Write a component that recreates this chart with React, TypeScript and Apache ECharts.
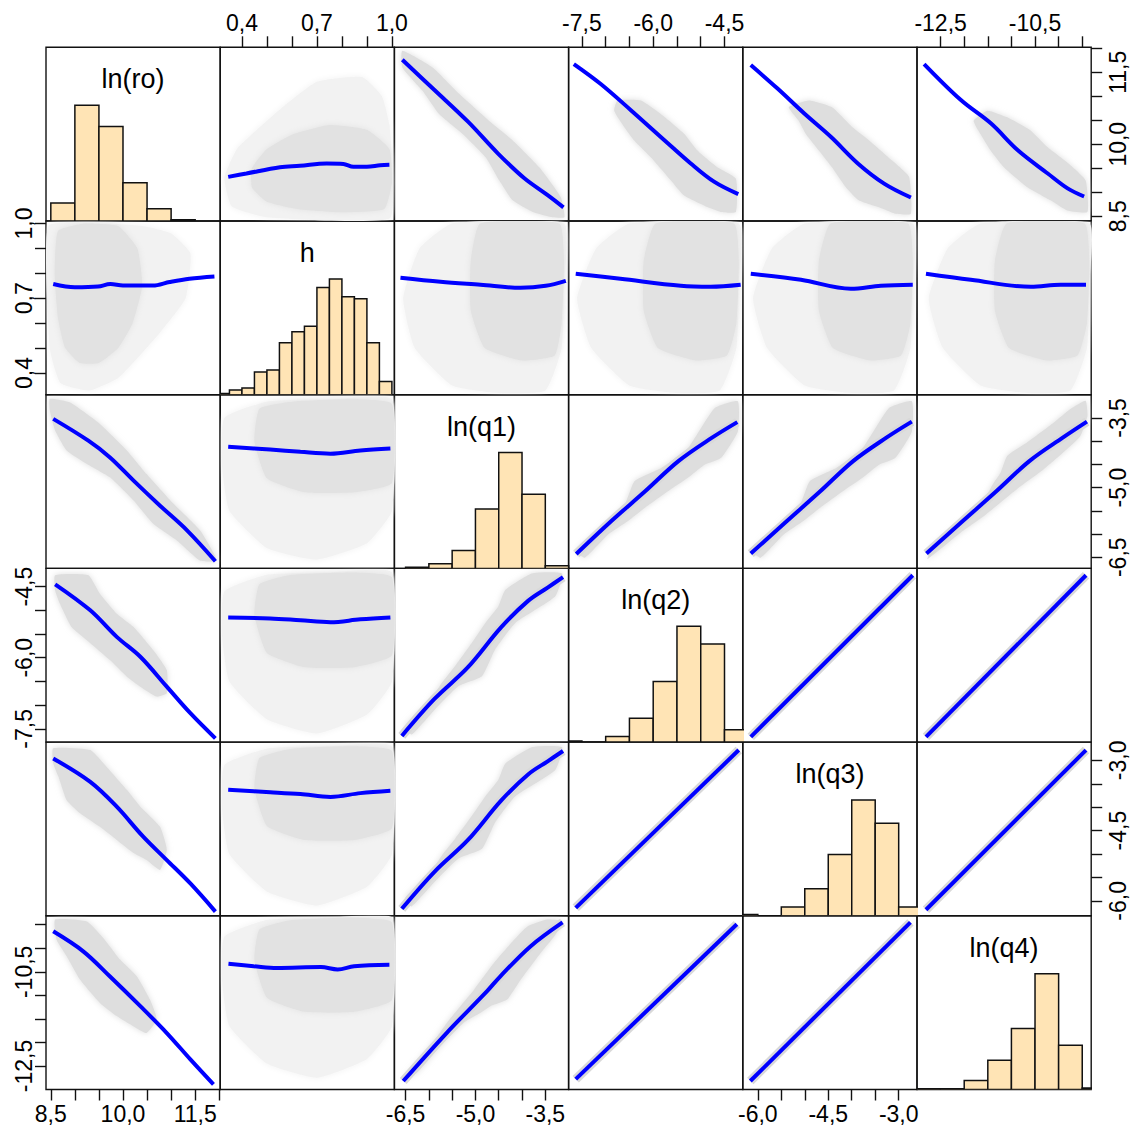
import React, { useEffect, useRef } from "react";
import * as echarts from "echarts";

// ---------- variables & axes ----------
const VAR_LABELS = ["ln(ro)", "h", "ln(q1)", "ln(q2)", "ln(q3)", "ln(q4)"];
const VAR_MIN = [8.4, 0.313, -6.74, -7.78, -6.32, -13.0];
const VAR_MAX = [12.02, 1.01, -3.0, -4.115, -2.61, -9.31];

const TICKS_RO = [8.5, 9.0, 9.5, 10.0, 10.5, 11.0, 11.5, 12.0];
const TICKS_H = [0.4, 0.5, 0.6, 0.7, 0.8, 0.9, 1.0];
const TICKS_Q1 = [-6.5, -6.0, -5.5, -5.0, -4.5, -4.0, -3.5];
const TICKS_Q2 = [-7.5, -7.0, -6.5, -6.0, -5.5, -5.0, -4.5];
const TICKS_Q3 = [-6.0, -5.5, -5.0, -4.5, -4.0, -3.5, -3.0];
const TICKS_Q4 = [-12.5, -12.0, -11.5, -11.0, -10.5, -10.0, -9.5];

const LABELS_RO = [8.5, 10.0, 11.5];
const LABELS_H = [0.4, 0.7, 1.0];
const LABELS_Q1 = [-6.5, -5.0, -3.5];
const LABELS_Q2 = [-7.5, -6.0, -4.5];
const LABELS_Q3 = [-6.0, -4.5, -3.0];
const LABELS_Q4 = [-12.5, -10.5];

// ---------- histograms (relative heights, max = 1) ----------
const HIST_BREAKS_RO = [8.5, 9.0, 9.5, 10.0, 10.5, 11.0, 11.5];
const HIST_HEIGHTS_RO = [0.155, 1.0, 0.816, 0.33, 0.106, 0.01];
const HIST_BREAKS_H = [0.3, 0.35, 0.4, 0.45, 0.5, 0.55, 0.6, 0.65, 0.7, 0.75, 0.8, 0.85, 0.9, 0.95, 1.0];
const HIST_HEIGHTS_H = [0.011, 0.04, 0.057, 0.195, 0.213, 0.448, 0.543, 0.592, 0.925, 1.0, 0.845, 0.828, 0.448, 0.115];
const HIST_BREAKS_Q1 = [-6.5, -6.0, -5.5, -5.0, -4.5, -4.0, -3.5, -3.0];
const HIST_HEIGHTS_Q1 = [0.009, 0.04, 0.155, 0.514, 1.0, 0.64, 0.023];
const HIST_BREAKS_Q2 = [-8.0, -7.5, -7.0, -6.5, -6.0, -5.5, -5.0, -4.5, -4.0];
const HIST_HEIGHTS_Q2 = [0.01, 0, 0.049, 0.207, 0.523, 1.0, 0.848, 0.106];
const HIST_BREAKS_Q3 = [-6.5, -6.0, -5.5, -5.0, -4.5, -4.0, -3.5, -3.0, -2.5];
const HIST_HEIGHTS_Q3 = [0.012, 0, 0.075, 0.233, 0.529, 1.0, 0.8, 0.075];
const HIST_BREAKS_Q4 = [-13.0, -12.5, -12.0, -11.5, -11.0, -10.5, -10.0, -9.5, -9.0];
const HIST_HEIGHTS_Q4 = [0.006, 0.006, 0.078, 0.253, 0.526, 1.0, 0.382, 0.012];

// ---------- smooth (lowess) lines, panel row_col: [x, y] ----------
const SMOOTH_1_2 = [[0.345, 9.32], [0.418, 9.39], [0.552, 9.52], [0.632, 9.55], [0.739, 9.6], [0.806, 9.59], [0.846, 9.53], [0.9, 9.53], [0.953, 9.56], [0.99, 9.57]];
const SMOOTH_1_3 = [[-6.57, 11.76], [-5.88, 11.13], [-5.16, 10.47], [-4.52, 9.81], [-3.95, 9.29], [-3.45, 8.94], [-3.11, 8.685]];
const SMOOTH_1_4 = [[-7.67, 11.67], [-7.11, 11.26], [-6.47, 10.71], [-5.77, 10.09], [-5.21, 9.6], [-4.72, 9.22], [-4.21, 8.96]];
const SMOOTH_1_5 = [[-6.15, 11.65], [-5.58, 11.16], [-5.01, 10.64], [-4.44, 10.15], [-3.87, 9.6], [-3.31, 9.18], [-2.74, 8.89]];
const SMOOTH_1_6 = [[-12.85, 11.67], [-12.07, 10.92], [-11.43, 10.43], [-10.87, 9.88], [-10.23, 9.39], [-9.81, 9.08], [-9.46, 8.91]];
const SMOOTH_2_1 = [[8.55, 0.757], [9.0, 0.744], [9.48, 0.747], [9.74, 0.757], [10.0, 0.751], [10.62, 0.751], [10.97, 0.765], [11.38, 0.778], [11.9, 0.787]];
const SMOOTH_2_3 = [[-6.61, 0.782], [-5.75, 0.766], [-4.89, 0.754], [-4.03, 0.742], [-3.49, 0.75], [-3.06, 0.77]];
const SMOOTH_2_4 = [[-7.63, 0.798], [-6.69, 0.778], [-5.42, 0.75], [-4.79, 0.746], [-4.16, 0.754]];
const SMOOTH_2_5 = [[-6.15, 0.798], [-5.08, 0.774], [-4.02, 0.738], [-3.38, 0.75], [-2.7, 0.754]];
const SMOOTH_2_6 = [[-12.81, 0.798], [-11.86, 0.774], [-10.59, 0.746], [-9.96, 0.754], [-9.42, 0.754]];
const SMOOTH_3_1 = [[8.55, -3.52], [9.28, -3.99], [9.73, -4.35], [10.22, -4.85], [10.77, -5.39], [11.33, -5.92], [11.92, -6.585]];
const SMOOTH_3_2 = [[0.345, -4.12], [0.513, -4.18], [0.634, -4.23], [0.754, -4.27], [0.874, -4.2], [0.994, -4.16]];
const SMOOTH_3_4 = [[-7.62, -6.43], [-6.88, -5.72], [-6.17, -5.08], [-5.47, -4.43], [-4.77, -3.93], [-4.23, -3.59]];
const SMOOTH_3_5 = [[-6.15, -6.42], [-5.38, -5.72], [-4.67, -5.08], [-3.97, -4.43], [-3.27, -3.93], [-2.72, -3.58]];
const SMOOTH_3_6 = [[-12.8, -6.42], [-12.03, -5.72], [-11.32, -5.08], [-10.62, -4.43], [-9.92, -3.93], [-9.4, -3.58]];
const SMOOTH_4_1 = [[8.59, -4.45], [9.32, -5.0], [9.87, -5.56], [10.36, -5.98], [10.91, -6.61], [11.4, -7.17], [11.92, -7.7]];
const SMOOTH_4_2 = [[0.345, -5.15], [0.513, -5.17], [0.634, -5.21], [0.754, -5.25], [0.874, -5.19], [0.994, -5.15]];
const SMOOTH_4_3 = [[-6.58, -7.65], [-5.88, -6.87], [-5.16, -6.2], [-4.45, -5.36], [-3.87, -4.8], [-3.45, -4.52], [-3.12, -4.3]];
const SMOOTH_4_5 = [[-6.15, -7.67], [-2.7, -4.26]];
const SMOOTH_4_6 = [[-12.81, -7.67], [-9.42, -4.26]];
const SMOOTH_5_1 = [[8.55, -2.96], [9.32, -3.46], [9.87, -3.99], [10.42, -4.63], [10.91, -5.13], [11.4, -5.63], [11.92, -6.23]];
const SMOOTH_5_2 = [[0.345, -3.63], [0.513, -3.68], [0.634, -3.72], [0.754, -3.78], [0.874, -3.7], [0.994, -3.65]];
const SMOOTH_5_3 = [[-6.58, -6.17], [-5.88, -5.38], [-5.16, -4.7], [-4.45, -3.86], [-3.87, -3.3], [-3.45, -3.02], [-3.12, -2.8]];
const SMOOTH_5_4 = [[-7.63, -6.15], [-4.2, -2.78]];
const SMOOTH_5_6 = [[-12.81, -6.19], [-9.42, -2.78]];
const SMOOTH_6_1 = [[8.55, -9.64], [9.18, -10.07], [9.73, -10.6], [10.36, -11.23], [10.91, -11.8], [11.4, -12.36], [11.88, -12.89]];
const SMOOTH_6_2 = [[0.346, -10.33], [0.447, -10.38], [0.54, -10.42], [0.716, -10.4], [0.783, -10.45], [0.849, -10.38], [0.99, -10.35]];
const SMOOTH_6_3 = [[-6.55, -12.82], [-5.62, -11.8], [-4.75, -10.91], [-4.47, -10.6], [-3.82, -9.96], [-3.13, -9.45]];
const SMOOTH_6_4 = [[-7.63, -12.78], [-4.24, -9.49]];
const SMOOTH_6_5 = [[-6.16, -12.82], [-2.75, -9.45]];

// ---------- point clouds (envelopes), pair (a,b) stored as [value a, value b] ----------
const CLOUD_RO_H_OUT = [[8.45, 0.99], [9.6, 1.0], [10.4, 0.99], [11.0, 0.96], [11.4, 0.88], [11.3, 0.7], [10.8, 0.57], [10.3, 0.46], [9.9, 0.38], [9.3, 0.33], [8.7, 0.36], [8.48, 0.5]];
const CLOUD_RO_H_IN = [[8.65, 0.97], [9.2, 1.0], [9.9, 0.99], [10.3, 0.9], [10.4, 0.75], [10.2, 0.6], [9.9, 0.5], [9.5, 0.44], [9.1, 0.44], [8.8, 0.5], [8.65, 0.62], [8.58, 0.8]];
const CLOUD_RO_Q1 = [[8.48, -3.09], [8.9, -3.17], [9.52, -3.63], [10.08, -4.2], [10.49, -4.71], [11.05, -5.35], [11.6, -5.92], [11.95, -6.57], [11.6, -6.57], [11.12, -6.14], [10.63, -5.78], [10.22, -5.28], [9.73, -4.78], [9.25, -4.49], [8.83, -4.2], [8.59, -3.77], [8.48, -3.34]];
const CLOUD_RO_Q2 = [[8.59, -4.26], [9.28, -4.26], [9.52, -4.65], [9.87, -5.07], [10.22, -5.35], [10.63, -5.84], [10.91, -6.26], [10.91, -6.75], [10.7, -6.82], [10.36, -6.61], [10.08, -6.4], [9.73, -6.05], [9.25, -5.63], [8.93, -5.35], [8.69, -4.86], [8.59, -4.58]];
const CLOUD_RO_Q3 = [[8.55, -2.74], [9.32, -2.78], [9.66, -3.14], [10.08, -3.63], [10.36, -3.99], [10.77, -4.42], [10.91, -4.91], [10.77, -5.34], [10.49, -5.13], [10.22, -4.98], [9.87, -4.7], [9.52, -4.42], [9.11, -4.13], [8.83, -3.85], [8.66, -3.35], [8.55, -3.06]];
const CLOUD_RO_Q4 = [[8.59, -9.39], [9.25, -9.43], [9.59, -9.78], [9.94, -10.24], [10.29, -10.6], [10.56, -11.09], [10.7, -11.51], [10.49, -11.8], [10.22, -11.66], [9.87, -11.44], [9.52, -11.16], [9.11, -10.67], [8.83, -10.17], [8.62, -9.82]];
const CLOUD_H_Q1_OUT = [[0.33, -3.5], [0.5, -3.15], [0.75, -3.1], [1.0, -3.1], [1.0, -5.5], [0.9, -6.2], [0.7, -6.55], [0.5, -6.3], [0.35, -5.5], [0.32, -4.5]];
const CLOUD_H_Q1_IN = [[0.47, -3.3], [0.6, -3.15], [0.85, -3.1], [1.0, -3.2], [1.0, -4.9], [0.85, -5.1], [0.65, -5.1], [0.5, -4.8], [0.45, -4.0]];
const CLOUD_H_Q2_OUT = [[0.33, -4.6], [0.5, -4.25], [0.75, -4.2], [1.0, -4.2], [1.0, -6.5], [0.9, -7.2], [0.7, -7.6], [0.5, -7.3], [0.35, -6.5], [0.32, -5.5]];
const CLOUD_H_Q2_IN = [[0.47, -4.45], [0.6, -4.25], [0.85, -4.2], [1.0, -4.3], [1.0, -5.95], [0.85, -6.2], [0.65, -6.2], [0.5, -5.9], [0.45, -5.1]];
const CLOUD_H_Q3_OUT = [[0.33, -3.1], [0.5, -2.75], [0.75, -2.7], [1.0, -2.7], [1.0, -5.0], [0.9, -5.7], [0.7, -6.1], [0.5, -5.8], [0.35, -5.0], [0.32, -4.0]];
const CLOUD_H_Q3_IN = [[0.47, -2.95], [0.6, -2.75], [0.85, -2.7], [1.0, -2.8], [1.0, -4.45], [0.85, -4.7], [0.65, -4.7], [0.5, -4.4], [0.45, -3.6]];
const CLOUD_H_Q4_OUT = [[0.33, -9.75], [0.5, -9.4], [0.75, -9.35], [1.0, -9.35], [1.0, -11.65], [0.9, -12.35], [0.7, -12.75], [0.5, -12.45], [0.35, -11.65], [0.32, -10.65]];
const CLOUD_H_Q4_IN = [[0.47, -9.6], [0.6, -9.4], [0.85, -9.35], [1.0, -9.45], [1.0, -11.1], [0.85, -11.35], [0.65, -11.35], [0.5, -11.05], [0.45, -10.25]];
const CLOUD_Q1_Q2 = [[-6.37, -7.62], [-5.87, -7.09], [-5.37, -6.6], [-4.86, -6.39], [-4.58, -5.83], [-4.15, -5.27], [-3.29, -4.71], [-3.14, -4.22], [-3.79, -4.22], [-4.36, -4.57], [-4.51, -4.92], [-4.79, -5.27], [-5.08, -5.69], [-5.44, -6.18], [-5.72, -6.53], [-6.01, -6.95], [-6.51, -7.44]];
const CLOUD_Q1_Q3 = [[-6.37, -6.12], [-5.87, -5.59], [-5.37, -5.1], [-4.86, -4.89], [-4.58, -4.33], [-4.15, -3.77], [-3.29, -3.21], [-3.14, -2.72], [-3.79, -2.72], [-4.36, -3.07], [-4.51, -3.42], [-4.79, -3.77], [-5.08, -4.19], [-5.44, -4.68], [-5.72, -5.03], [-6.01, -5.45], [-6.51, -5.94]];
const CLOUD_Q1_Q4 = [[-6.54, -12.78], [-5.97, -12.08], [-5.61, -11.58], [-5.03, -10.88], [-4.6, -10.31], [-4.17, -9.82], [-3.89, -9.54], [-3.46, -9.39], [-3.13, -9.43], [-3.31, -9.75], [-3.6, -10.1], [-4.03, -10.67], [-4.32, -11.09], [-4.68, -11.23], [-4.89, -11.37], [-5.25, -11.58], [-5.75, -12.08], [-6.25, -12.64]];

// ---------- assembly ----------
const TICKS = [TICKS_RO, TICKS_H, TICKS_Q1, TICKS_Q2, TICKS_Q3, TICKS_Q4];
const LABELS = [LABELS_RO, LABELS_H, LABELS_Q1, LABELS_Q2, LABELS_Q3, LABELS_Q4];
const HISTS = [
  [HIST_BREAKS_RO, HIST_HEIGHTS_RO],
  [HIST_BREAKS_H, HIST_HEIGHTS_H],
  [HIST_BREAKS_Q1, HIST_HEIGHTS_Q1],
  [HIST_BREAKS_Q2, HIST_HEIGHTS_Q2],
  [HIST_BREAKS_Q3, HIST_HEIGHTS_Q3],
  [HIST_BREAKS_Q4, HIST_HEIGHTS_Q4],
];
const SMOOTH: Record<string, number[][]> = {
  "1,2": SMOOTH_1_2, "1,3": SMOOTH_1_3, "1,4": SMOOTH_1_4, "1,5": SMOOTH_1_5, "1,6": SMOOTH_1_6,
  "2,1": SMOOTH_2_1, "2,3": SMOOTH_2_3, "2,4": SMOOTH_2_4, "2,5": SMOOTH_2_5, "2,6": SMOOTH_2_6,
  "3,1": SMOOTH_3_1, "3,2": SMOOTH_3_2, "3,4": SMOOTH_3_4, "3,5": SMOOTH_3_5, "3,6": SMOOTH_3_6,
  "4,1": SMOOTH_4_1, "4,2": SMOOTH_4_2, "4,3": SMOOTH_4_3, "4,5": SMOOTH_4_5, "4,6": SMOOTH_4_6,
  "5,1": SMOOTH_5_1, "5,2": SMOOTH_5_2, "5,3": SMOOTH_5_3, "5,4": SMOOTH_5_4, "5,6": SMOOTH_5_6,
  "6,1": SMOOTH_6_1, "6,2": SMOOTH_6_2, "6,3": SMOOTH_6_3, "6,4": SMOOTH_6_4, "6,5": SMOOTH_6_5,
};
const CLOUDS: Record<string, { layers: [number[][], string][]; halo?: boolean }> = {
  "0,1": { layers: [[CLOUD_RO_H_OUT, "out"], [CLOUD_RO_H_IN, "in"]] },
  "0,2": { layers: [[CLOUD_RO_Q1, "band"]] },
  "0,3": { layers: [[CLOUD_RO_Q2, "band"]] },
  "0,4": { layers: [[CLOUD_RO_Q3, "band"]] },
  "0,5": { layers: [[CLOUD_RO_Q4, "band"]] },
  "1,2": { layers: [[CLOUD_H_Q1_OUT, "out"], [CLOUD_H_Q1_IN, "in"]] },
  "1,3": { layers: [[CLOUD_H_Q2_OUT, "out"], [CLOUD_H_Q2_IN, "in"]] },
  "1,4": { layers: [[CLOUD_H_Q3_OUT, "out"], [CLOUD_H_Q3_IN, "in"]] },
  "1,5": { layers: [[CLOUD_H_Q4_OUT, "out"], [CLOUD_H_Q4_IN, "in"]] },
  "2,3": { layers: [[CLOUD_Q1_Q2, "band"]], halo: true },
  "2,4": { layers: [[CLOUD_Q1_Q3, "band"]], halo: true },
  "2,5": { layers: [[CLOUD_Q1_Q4, "band"]], halo: true },
  "3,4": { layers: [], halo: true },
  "3,5": { layers: [], halo: true },
  "4,5": { layers: [], halo: true },
};

const LEFT = 46;
const TOP = 47.3;
const CW = 174.2;
const CH = 173.7;
const FONT = "'Liberation Sans', Arial, Helvetica, sans-serif";
const FILLS: Record<string, string> = { out: "#f2f2f2", in: "#e2e2e2", band: "#dedede" };

const fmt = (v: number) => v.toFixed(1).replace(".", ",");

function buildOption() {
  const grid: any[] = [];
  const xAxis: any[] = [];
  const yAxis: any[] = [];
  const series: any[] = [];
  const graphic: any[] = [];

  for (let i = 0; i < 6; i++) {
    for (let j = 0; j < 6; j++) {
      const k = i * 6 + j;
      grid.push({
        left: LEFT + CW * j,
        top: TOP + CH * i,
        width: CW,
        height: CH,
        show: true,
        borderColor: "#111",
        borderWidth: 1.4,
        backgroundColor: "transparent",
        containLabel: false,
      });
      const showX = (i === 0 && j % 2 === 1) || (i === 5 && j % 2 === 0);
      const showY = (j === 0 && i % 2 === 1) || (j === 5 && i % 2 === 0);
      xAxis.push({
        type: "value",
        gridIndex: k,
        min: VAR_MIN[j],
        max: VAR_MAX[j],
        position: i === 0 ? "top" : "bottom",
        axisLine: { show: false },
        splitLine: { show: false },
        axisTick: {
          show: showX,
          customValues: TICKS[j],
          length: 11,
          lineStyle: { color: "#111", width: 1.4 },
        },
        axisLabel: {
          show: showX,
          customValues: LABELS[j],
          formatter: fmt,
          fontSize: 23,
          fontFamily: FONT,
          color: "#000",
          margin: 13,
        },
      });
      yAxis.push({
        type: "value",
        gridIndex: k,
        min: i === j ? 0 : VAR_MIN[i],
        max: i === j ? 1.5 : VAR_MAX[i],
        position: j === 0 ? "left" : "right",
        axisLine: { show: false },
        splitLine: { show: false },
        axisTick: {
          show: showY,
          customValues: TICKS[i],
          length: 11,
          lineStyle: { color: "#111", width: 1.4 },
        },
        axisLabel: {
          show: showY,
          customValues: LABELS[i],
          formatter: fmt,
          rotate: 90,
          fontSize: 23,
          fontFamily: FONT,
          color: "#000",
          margin: j === 0 ? 11 : 15,
        },
      });

      if (i === j) {
        const [breaks, heights] = HISTS[i];
        const data = heights.map((h, n) => [breaks[n], breaks[n + 1], h]);
        series.push({
          type: "custom",
          xAxisIndex: k,
          yAxisIndex: k,
          clip: true,
          silent: true,
          data,
          encode: { x: [0, 1], y: 2 },
          renderItem: (params: any, api: any) => {
            const lo = api.value(0);
            const hi = api.value(1);
            const h = api.value(2);
            const p0 = api.coord([lo, h]);
            const p1 = api.coord([hi, 0]);
            return {
              type: "rect",
              shape: { x: p0[0], y: p0[1], width: p1[0] - p0[0], height: p1[1] - p0[1] },
              style: { fill: "#FFE4B5", stroke: "#111", lineWidth: 1.5 },
            };
          },
        });
        graphic.push({
          type: "text",
          x: LEFT + CW * (j + 0.5),
          y: TOP + CH * i + 32,
          silent: true,
          style: {
            text: VAR_LABELS[i],
            font: `27px ${FONT}`,
            fill: "#000",
            align: "center",
            verticalAlign: "middle",
            textAlign: "center",
            textVerticalAlign: "middle",
          },
        });
        continue;
      }

      const a = Math.min(i, j);
      const b = Math.max(i, j);
      const cloud = CLOUDS[`${a},${b}`];
      const toPanel = (v: number[]) => (i < j ? [v[1], v[0]] : [v[0], v[1]]);
      cloud.layers.forEach(([verts, kind]) => {
        const pts = verts.map(toPanel);
        series.push({
          type: "custom",
          xAxisIndex: k,
          yAxisIndex: k,
          clip: true,
          silent: true,
          data: pts,
          renderItem: (params: any, api: any) => {
            if (params.dataIndex !== 0) return null;
            const points = pts.map((p) => api.coord(p));
            return {
              type: "polygon",
              shape: { points, smooth: 0.15 },
              style: { fill: FILLS[kind], stroke: "none", shadowBlur: 6, shadowColor: FILLS[kind] },
            };
          },
        });
      });
      const sm = SMOOTH[`${i + 1},${j + 1}`];
      if (cloud.halo) {
        series.push({
          type: "line",
          xAxisIndex: k,
          yAxisIndex: k,
          data: sm,
          symbol: "none",
          silent: true,
          smooth: 0.35,
          lineStyle: { color: "#d9d9d9", width: 9 },
        });
      }
      series.push({
        type: "line",
        xAxisIndex: k,
        yAxisIndex: k,
        data: sm,
        symbol: "none",
        silent: true,
        smooth: 0.35,
        lineStyle: { color: "#0000ff", width: 4 },
        z: 3,
      });
    }
  }

  return { animation: false, backgroundColor: "#ffffff", grid, xAxis, yAxis, series, graphic };
}

export default function App() {
  const ref = useRef<HTMLDivElement>(null);
  useEffect(() => {
    if (!ref.current) return;
    const chart = echarts.init(ref.current, undefined, { renderer: "svg" });
    chart.setOption(buildOption() as any);
    return () => chart.dispose();
  }, []);
  return (
    <div
      ref={ref}
      style={{ position: "fixed", left: 0, top: 0, width: 1131, height: 1126, background: "#fff" }}
    />
  );
}
